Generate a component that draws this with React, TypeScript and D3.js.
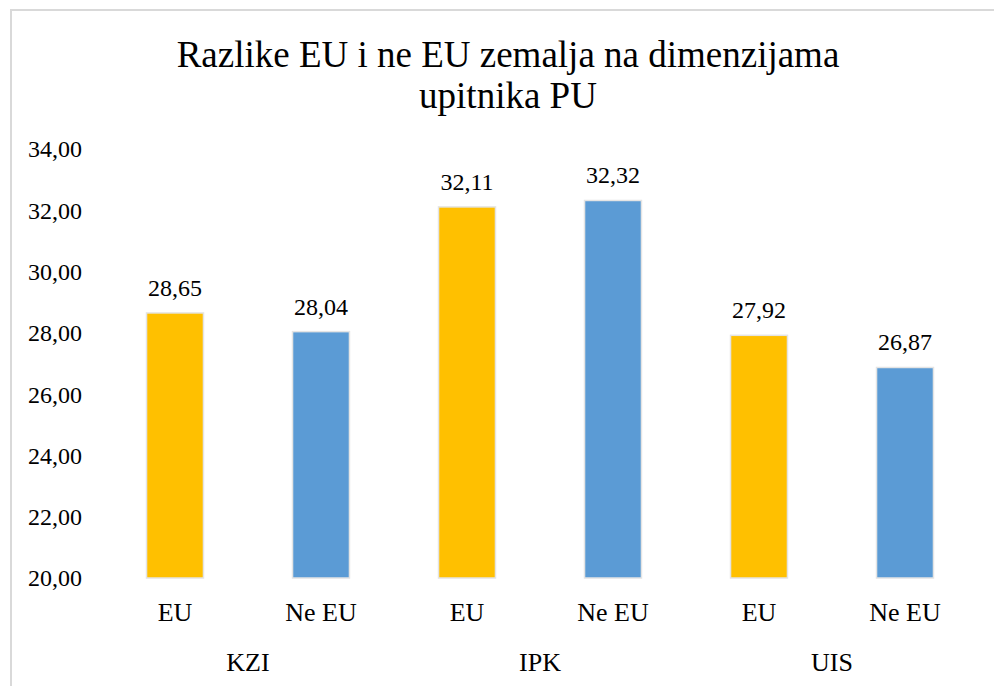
import React, { useEffect, useRef } from 'react'
import { select, scaleBand, scaleLinear, range } from 'd3'

const groups = ['KZI', 'IPK', 'UIS']
const series = ['EU', 'Ne EU']
const values = [28.65, 28.04, 32.11, 32.32, 27.92, 26.87]
const yTicks = [20, 22, 24, 26, 28, 30, 32, 34]
const colors = ['#FFC000', '#5B9BD5']
const titleLines = ['Razlike EU i ne EU zemalja na dimenzijama', 'upitnika PU']

const fmt = (v: number) => v.toFixed(2).replace('.', ',')

const FONT = "'Liberation Serif', 'Times New Roman', Tinos, 'DejaVu Serif', serif"

const App = () => {
    const svgRef = useRef<SVGSVGElement>(null)

    const width = 994
    const height = 686
    const margin = { top: 149, right: 16, bottom: 108, left: 102 }

    useEffect(() => {
        const svg = select(svgRef.current)
        svg.selectAll('*').remove()

        // frame (only top and left edges fall inside the picture)
        svg.append('rect')
            .attr('x', 11)
            .attr('y', 10)
            .attr('width', width + 20)
            .attr('height', height + 20)
            .attr('fill', 'white')
            .attr('stroke', '#d9d9d9')
            .attr('stroke-width', 2)

        const g = svg.append('g')
            .attr('font-family', FONT)
            .attr('fill', '#000')

        g.selectAll('.title')
            .data(titleLines)
            .enter().append('text')
            .attr('class', 'title')
            .attr('x', 508)
            .attr('y', (d, i) => 67 + i * 41)
            .attr('text-anchor', 'middle')
            .attr('font-size', '37px')
            .text(d => d)

        const xScale = scaleBand<number>()
            .domain(range(values.length))
            .range([margin.left, width - margin.right])
            .padding(0)

        const yScale = scaleLinear()
            .domain([20, 34])
            .range([height - margin.bottom, margin.top])

        const barW = xScale.bandwidth() * 0.39

        g.selectAll('.ytick')
            .data(yTicks)
            .enter().append('text')
            .attr('class', 'ytick')
            .attr('x', 82)
            .attr('y', d => yScale(d))
            .attr('dy', '0.35em')
            .attr('text-anchor', 'end')
            .attr('font-size', '24px')
            .text(d => fmt(d))

        g.selectAll('.bar')
            .data(values)
            .enter().append('rect')
            .attr('class', 'bar')
            .attr('x', (d, i) => xScale(i)! + (xScale.bandwidth() - barW) / 2)
            .attr('y', d => yScale(d))
            .attr('width', barW)
            .attr('height', d => yScale(20) - yScale(d))
            .attr('fill', (d, i) => colors[i % 2])
            .attr('stroke', '#e4e4e4')
            .attr('stroke-width', 1.5)

        g.selectAll('.vlabel')
            .data(values)
            .enter().append('text')
            .attr('class', 'vlabel')
            .attr('x', (d, i) => xScale(i)! + xScale.bandwidth() / 2)
            .attr('y', d => yScale(d) - 17)
            .attr('text-anchor', 'middle')
            .attr('font-size', '24px')
            .text(d => fmt(d))

        g.selectAll('.sname')
            .data(values)
            .enter().append('text')
            .attr('class', 'sname')
            .attr('x', (d, i) => xScale(i)! + xScale.bandwidth() / 2)
            .attr('y', 621)
            .attr('text-anchor', 'middle')
            .attr('font-size', '26px')
            .text((d, i) => series[i % 2])

        g.selectAll('.gname')
            .data(groups)
            .enter().append('text')
            .attr('class', 'gname')
            .attr('x', (d, i) => xScale(i * 2)! + xScale.bandwidth())
            .attr('y', 671)
            .attr('text-anchor', 'middle')
            .attr('font-size', '26px')
            .text(d => d)
    }, [])

    return (
        <svg
            ref={svgRef}
            width={width}
            height={height}
            style={{ position: 'absolute', left: 0, top: 0 }}
        />
    )
}

export default App
